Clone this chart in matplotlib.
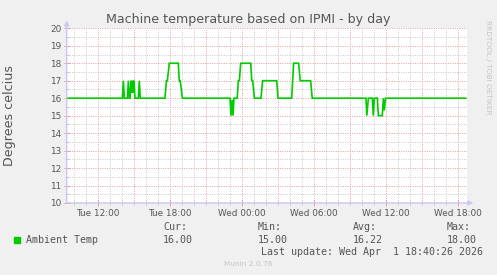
import matplotlib
matplotlib.use("Agg")
import matplotlib.pyplot as plt
from matplotlib.ticker import MultipleLocator, FixedLocator, NullFormatter

# hours since Tue 00:00 and the temperature trace
hours = [9.4, 14.03, 14.11, 14.19, 14.45, 14.53, 14.61, 14.67, 14.75, 14.82,
         14.89, 14.95, 15.0, 15.08, 15.36, 15.44, 15.52, 17.58, 17.7, 17.78,
         17.94, 18.69, 18.77, 18.85, 19.03, 23.0, 23.08, 23.17, 23.25, 23.33,
         23.6, 23.69, 23.78, 23.89, 24.73, 24.81, 24.89, 25.03, 25.58, 25.72,
         26.89, 27.0, 28.14, 28.22, 28.3, 28.72, 28.85, 29.72, 29.85, 34.33,
         34.40, 34.53, 34.86, 34.94, 35.03, 35.28, 35.36, 35.69, 35.78, 35.86,
         35.96, 42.64]
temps = [16, 16, 17, 16, 16, 17, 16, 16, 17, 16.3,
         17, 16.3, 17, 16, 16, 17, 16, 16, 17, 17,
         18, 18, 17, 17, 16, 16, 15, 15.9, 15, 16,
         16, 17, 17, 18, 18, 17, 17, 16, 16, 17,
         17, 16, 16, 17, 18, 18, 17, 17, 16, 16,
         15, 16, 16, 15, 16, 16, 15, 15, 16, 15.3,
         16, 16]

tick_hours = [12, 18, 24, 30, 36, 42]
tick_labels = ["Tue 12:00", "Tue 18:00", "Wed 00:00", "Wed 06:00", "Wed 12:00", "Wed 18:00"]
y_ticks = list(range(10, 21))

series_name = "Ambient Temp"
stats_labels = ["Cur:", "Min:", "Avg:", "Max:"]
stats_values = ["16.00", "15.00", "16.22", "18.00"]
last_update = "Last update: Wed Apr  1 18:40:26 2026"

W, H = 497, 275
back = "#F0F0F0"
txt = "#555555"
axis_col = "#C8C8F0"
major_col = "#E6A0A0"
minor_col = "#C8C8C8"

fig = plt.figure(figsize=(W / 100, H / 100), dpi=100, facecolor=back)
x0, x1, y0, y1 = 66.7, 467, 28.3, 203
ax = fig.add_axes([x0 / W, 1 - y1 / H, (x1 - x0) / W, (y1 - y0) / H])
ax.set_facecolor("white")
ax.set_xlim(9.39, 42.75)
ax.set_ylim(10, 20)

for s in ax.spines.values():
    s.set_visible(False)

dots = (0, (1.0, 1.4))
# minor grid
for h in range(10, 43):
    if h % 3:
        ax.axvline(h, color=minor_col, lw=0.7, ls=dots, zorder=1)
for v in [y + 0.5 for y in range(10, 20)]:
    ax.axhline(v, color=minor_col, lw=0.7, ls=dots, zorder=1)
# major grid
for h in range(12, 43, 3):
    ax.axvline(h, color=major_col, lw=0.7, ls=dots, zorder=1.5)
for v in range(11, 21):
    ax.axhline(v, color=major_col, lw=0.7, ls=dots, zorder=1.5)

ax.plot(hours, temps, color="#00CC00", lw=1.2, zorder=3, solid_joinstyle="miter")

ax.xaxis.set_major_locator(FixedLocator(tick_hours))
ax.set_xticklabels(tick_labels)
ax.xaxis.set_minor_locator(MultipleLocator(1))
ax.set_yticks(y_ticks)
ax.yaxis.set_minor_locator(MultipleLocator(0.5))
ax.tick_params(axis="both", which="major", labelsize=6.4, labelcolor=txt,
               color=major_col, length=4, width=0.7, direction="inout")
ax.tick_params(axis="both", which="minor", color=minor_col, length=3,
               width=0.7, direction="inout")
ax.tick_params(axis="x", pad=2)
ax.tick_params(axis="y", pad=2)

# axis lines with arrow heads
ax.annotate("", xy=(1.016, 0), xytext=(0, 0), xycoords="axes fraction",
            arrowprops=dict(arrowstyle="-|>", color=axis_col, lw=1.0,
                            mutation_scale=7, shrinkA=0, shrinkB=0),
            annotation_clip=False, zorder=4)
ax.annotate("", xy=(0, 1.045), xytext=(0, 0), xycoords="axes fraction",
            arrowprops=dict(arrowstyle="-|>", color=axis_col, lw=1.0,
                            mutation_scale=7, shrinkA=0, shrinkB=0),
            annotation_clip=False, zorder=4)

fig.text(0.5, 1 - 19 / H, "Machine temperature based on IPMI - by day",
         ha="center", va="center", fontsize=9.1, color=txt)
fig.text(10 / W, 1 - 115 / H, "Degrees celcius", rotation=90,
         ha="center", va="center", fontsize=9.1, color=txt)
fig.text(488 / W, 1 - 20 / H, "RRDTOOL / TOBI OETIKER", rotation=270,
         ha="center", va="top", fontsize=5.3, color="#C4C4C4")

# legend block
mono = "DejaVu Sans Mono"
fig.patches.append(plt.Rectangle((14 / W, 1 - 243 / H), 6 / W, 6 / H,
                                 transform=fig.transFigure, color="#00CC00"))
fig.text(26 / W, 1 - 240 / H, series_name, family=mono, fontsize=7.2,
         color=txt, va="center", ha="left")
for i, (lab, val) in enumerate(zip(stats_labels, stats_values)):
    x = (163 + i * 94.7) / W
    fig.text(x, 1 - 227 / H, lab, family=mono, fontsize=7.2, color=txt,
             va="center", ha="left")
    fig.text(x, 1 - 240 / H, val, family=mono, fontsize=7.2, color=txt,
             va="center", ha="left")
fig.text(483 / W, 1 - 252 / H, last_update, family=mono, fontsize=7.2,
         color=txt, va="center", ha="right")
fig.text(0.5, 1 - 264 / H, "Munin 2.0.76", fontsize=5.3, color="#C4C4C4",
         ha="center", va="center")

fig.savefig("out.png", dpi=100, facecolor=back)
